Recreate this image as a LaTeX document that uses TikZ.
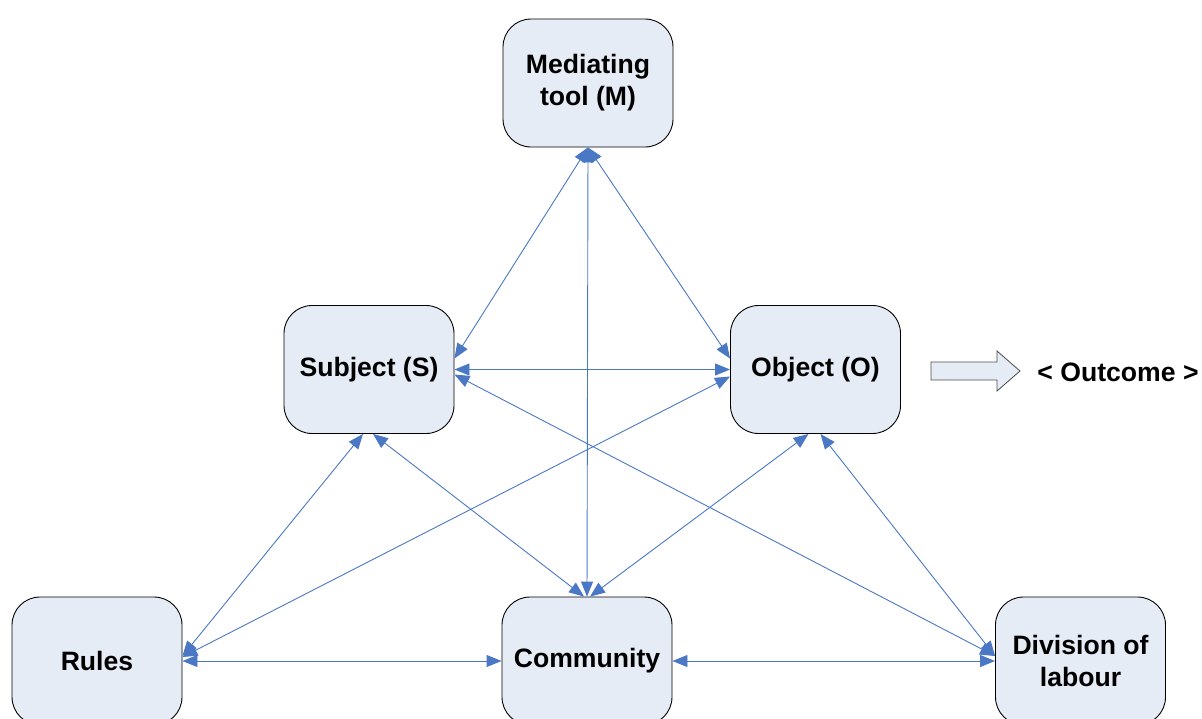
\documentclass[tikz,border=0pt]{standalone}
\usepackage{fontspec}
\setmainfont{Liberation Sans}
\usetikzlibrary{arrows.meta,calc}
\definecolor{boxfill}{HTML}{E6ECF6}
\definecolor{linkblue}{HTML}{4A78C4}
\tikzset{
  box/.style={draw=black, line width=0.9pt, fill=boxfill, rounded corners=28pt,
    minimum width=170pt, minimum height=128pt, align=center,
    font=\fontsize{26.6}{32}\selectfont\bfseries, inner sep=0pt},
  link/.style={draw=linkblue, line width=0.9pt,
    {Triangle[length=15pt,width=12pt]}-{Triangle[length=15pt,width=12pt]}},
  lbl/.style={font=\fontsize{26.6}{32}\selectfont\bfseries, inner sep=0pt}
}
\begin{document}
\begin{tikzpicture}[x=1pt,y=-1pt]
\useasboundingbox (0,0) rectangle (1202,718);
\clip (0,0) rectangle (1202,718);
\node[box] (M) at (588,83) {Mediating\\tool (M)};
\node[box] (S) at (369,369.5) {\raisebox{-2pt}{Subject (S)}};
\node[box] (O) at (815.5,369.5) {\raisebox{-2pt}{Object (O)}};
\node[box] (R) at (97,661) {Rules};
\node[box] (C) at (587,661) {Community};
\node[box] (D) at (1080.5,661) {Division of\\labour};
% connectors
\draw[link] (M.south) -- ([yshift=11pt]S.east);
\draw[link] (M.south) -- ([yshift=11pt]O.west);
\draw[link] (M.south) -- (C.north);
\draw[link] (S.east) -- (O.west);
\draw[link] ([xshift=-6pt]S.south) -- ([yshift=5pt]R.east);
\draw[link] ([xshift=4pt]S.south) -- ([xshift=-3pt]C.north);
\draw[link] ([yshift=-5pt]S.east) -- ([yshift=5pt]D.west);
\draw[link] ([yshift=-7pt]O.west) -- ([yshift=4pt]R.east);
\draw[link] ([xshift=-7pt]O.south) -- ([xshift=3pt]C.north);
\draw[link] ([xshift=5pt]O.south) -- ([yshift=5pt]D.west);
\draw[link] (R.east) -- (C.west);
\draw[link] (C.east) -- (D.west);
% outcome block arrow
\draw[draw=black!70, fill=boxfill, line width=0.8pt]
  (931,362) -- (997,362) -- (997,351) -- (1020,371) -- (997,391) -- (997,380) -- (931,380) -- cycle;
\node[lbl] (out) at (1118,372) {< Outcome >};
\end{tikzpicture}
\end{document}
